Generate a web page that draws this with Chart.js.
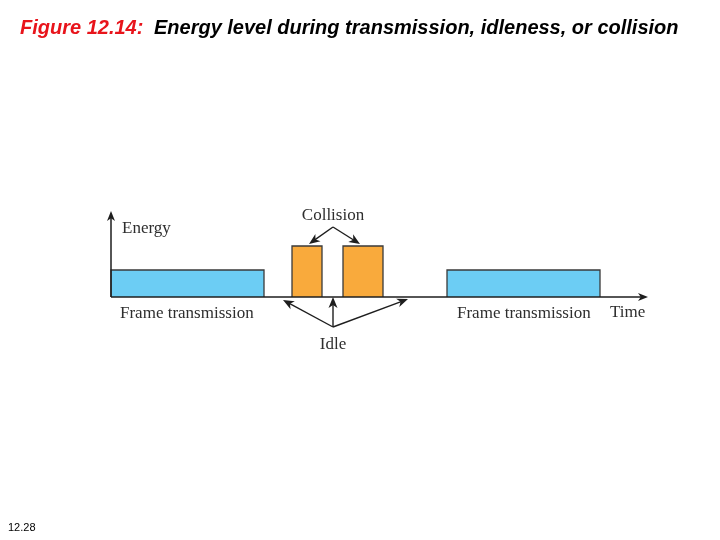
<!DOCTYPE html>
<html>
<head>
<meta charset="utf-8">
<script src="https://cdn.jsdelivr.net/npm/chart.js@4/dist/chart.umd.min.js"></script>
<style>
    html, body { margin: 0; padding: 0; background: #fff; }
    #wrap { position: relative; width: 720px; height: 540px; overflow: hidden; }
    #title {
        position: absolute; left: 20px; top: 16px; white-space: nowrap;
        font: italic bold 20px "Liberation Sans", Arial, sans-serif; color: #000;
    }
    #title .fig { color: #e8141b; margin-right: 5px; }
    #pageNo {
        position: absolute; left: 8px; top: 521px;
        font: 11px "Liberation Sans", Arial, sans-serif; color: #000;
    }
    canvas { position: absolute; left: 0; top: 0; }
</style>
</head>
<body>
<div id="wrap">
    <canvas id="energyChart" width="720" height="540"></canvas>
    <div id="title"><span class="fig">Figure 12.14:</span> Energy level during transmission, idleness, or collision</div>
    <div id="pageNo">12.28</div>
</div>

<script>
// =============================================================
// DATA  (time / energy units)
// =============================================================
const segStart = [0, 181, 232, 336];
const segEnd   = [153, 211, 272, 489];
const segLevel = [27, 51, 51, 27];
const segKind  = ["frame", "collision", "collision", "frame"];

const timeMax   = 537;   // arrow tip of time axis
const energyMax = 86;    // arrow tip of energy axis

const labelText  = ["Energy", "Collision", "Frame transmission", "Idle", "Frame transmission", "Time"];
const labelX     = [11, 222, 9, 222, 346, 499];
const labelY     = [68, 81, -17, -48, -17, -16];
const labelAlign = ["left", "center", "left", "center", "left", "left"];

// arrows: [fromX, fromY, toX, toY]
const arrows = [
    [222, 70, 198, 53],
    [222, 70, 249, 53],
    [222, -30, 172, -3],
    [222, -30, 222, 0],
    [222, -30, 297, -2]
];

const colors = { frame: "#6ccdf4", collision: "#f9aa3c" };



// =============================================================
// HELPERS
// =============================================================
function drawArrow(ctx, x1, y1, x2, y2, len, half) {
    const c = Math.cos(Math.atan2(y2 - y1, x2 - x1));
    const s = Math.sin(Math.atan2(y2 - y1, x2 - x1));
    ctx.beginPath();
    ctx.moveTo(x1, y1);
    ctx.lineTo(x2 - c * len * 0.6, y2 - s * len * 0.6);
    ctx.stroke();
    ctx.beginPath();
    ctx.moveTo(x2, y2);
    ctx.lineTo(x2 - c * len + s * half, y2 - s * len - c * half);
    ctx.lineTo(x2 - c * len * 0.72, y2 - s * len * 0.72);
    ctx.lineTo(x2 - c * len - s * half, y2 - s * len + c * half);
    ctx.closePath();
    ctx.fill();
}

const diagramPlugin = {
    id: "diagram",
    afterDatasetsDraw(chart) {
        const ctx = chart.ctx;
        const xs = chart.scales.x, ys = chart.scales.y;
        const px = v => xs.getPixelForValue(v);
        const py = v => ys.getPixelForValue(v);

        ctx.save();
        ctx.strokeStyle = "#1e1e1e";
        ctx.fillStyle = "#1e1e1e";
        ctx.lineWidth = 1.5;

        // axes
        drawArrow(ctx, px(0), py(0), px(timeMax), py(0), 10, 4);
        drawArrow(ctx, px(0), py(0), px(0), py(energyMax), 10, 4);

        // pointer arrows
        ctx.lineWidth = 1.4;
        arrows.forEach(a => drawArrow(ctx, px(a[0]), py(a[1]), px(a[2]), py(a[3]), 11, 4.5));

        // labels
        ctx.font = '17px "Liberation Serif", "DejaVu Serif", serif';
        ctx.fillStyle = "#2e2e2e";
        ctx.textBaseline = "middle";
        labelText.forEach((t, i) => {
            ctx.textAlign = labelAlign[i];
            ctx.fillText(t, px(labelX[i]), py(labelY[i]));
        });
        ctx.restore();
    }
};



// =============================================================
// CHART
// =============================================================
const datasets = segStart.map((s, i) => ({
    label: segKind[i],
    data: [
        { x: s, y: 0 },
        { x: s, y: segLevel[i] },
        { x: segEnd[i], y: segLevel[i] },
        { x: segEnd[i], y: 0 }
    ],
    borderColor: "#3a3a3a",
    borderWidth: 1.3,
    backgroundColor: colors[segKind[i]],
    fill: "origin",
    pointRadius: 0,
    tension: 0,
    clip: false
}));

new Chart(document.getElementById("energyChart"), {
    type: "line",
    data: { datasets },
    plugins: [diagramPlugin],
    options: {
        responsive: false,
        animation: false,
        layout: { padding: { left: 111, right: 69, top: 207, bottom: 243 } },
        plugins: { legend: { display: false }, tooltip: { enabled: false } },
        scales: {
            x: { type: "linear", min: 0, max: 540, display: false },
            y: { type: "linear", min: 0, max: 90, display: false }
        }
    }
});
</script>
</body>
</html>
